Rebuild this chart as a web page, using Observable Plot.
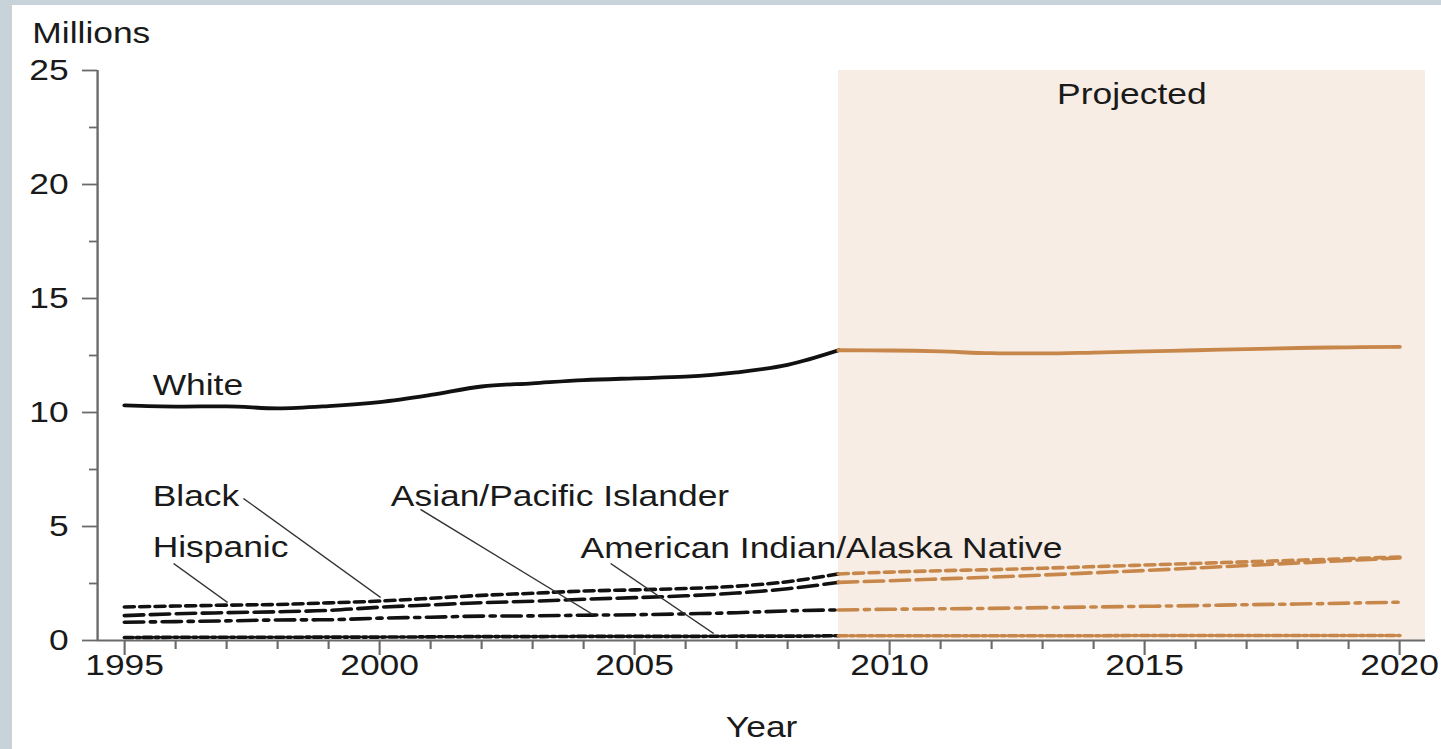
<!DOCTYPE html>
<html><head><meta charset="utf-8">
<script src="https://cdn.jsdelivr.net/npm/d3@7"></script>
<script src="https://cdn.jsdelivr.net/npm/@observablehq/plot@0.6"></script>
<style>
html,body{margin:0;padding:0;background:#c7d2d9;width:1441px;height:749px;overflow:hidden}
#panel{position:absolute;left:12px;top:5px;width:1429px;height:744px;background:#fff}
#panel svg{display:block}
</style></head><body><div id="panel"></div>
<script>
// ---- data ----
const years = [1995,1996,1997,1998,1999,2000,2001,2002,2003,2004,2005,2006,2007,2008,2009,2010,2011,2012,2013,2014,2015,2016,2017,2018,2019,2020];
const lastActualYear = 2009;
const seriesNames = ["White","Black","Hispanic","Asian/Pacific Islander","American Indian/Alaska Native"];
const white    = [10.31,10.26,10.27,10.18,10.28,10.46,10.77,11.14,11.28,11.42,11.50,11.57,11.76,12.09,12.73, 12.72,12.68,12.60,12.59,12.63,12.68,12.73,12.78,12.83,12.86,12.88];
const black    = [1.47,1.51,1.55,1.58,1.65,1.73,1.85,1.98,2.07,2.17,2.22,2.28,2.38,2.58,2.92, 3.00,3.06,3.11,3.17,3.24,3.31,3.38,3.45,3.52,3.59,3.66];
const hispanic = [1.09,1.17,1.22,1.26,1.32,1.46,1.56,1.66,1.72,1.81,1.88,1.96,2.08,2.27,2.55, 2.62,2.70,2.78,2.87,2.97,3.07,3.18,3.29,3.40,3.51,3.62];
const asian    = [0.80,0.83,0.86,0.90,0.91,0.98,1.02,1.07,1.08,1.11,1.13,1.17,1.22,1.30,1.34, 1.37,1.39,1.41,1.44,1.47,1.50,1.53,1.57,1.60,1.64,1.68];
const aian     = [0.13,0.14,0.14,0.14,0.15,0.15,0.16,0.17,0.17,0.18,0.18,0.18,0.19,0.19,0.21, 0.21,0.21,0.21,0.21,0.21,0.22,0.22,0.22,0.22,0.22,0.22];
const seriesValues = [white, black, hispanic, asian, aian];

const xTickMajor = [1995, 2000, 2005, 2010, 2015, 2020];
const xTickMinor = years.filter(y => !xTickMajor.includes(y));
const yTickMajor = [0, 5, 10, 15, 20, 25];
const yTickMinor = [2.5, 7.5, 12.5, 17.5, 22.5];

// label annotations (data coordinates)
const labelText = ["White","Black","Hispanic","Asian/Pacific Islander","American Indian/Alaska Native"];
const labelYear = [1995.55, 1995.55, 1995.55, 2000.22, 2003.94];
const labelValue = [10.75, 5.88, 3.68, 5.88, 3.61];
// leader lines
const leaderFromYear = [1997.33, 1995.96, 2000.80, 2004.53];
const leaderFromValue = [6.23, 3.38, 5.75, 3.38];
const leaderToYear = [2000.02, 1997.02, 2004.18, 2006.55];
const leaderToValue = [1.89, 1.67, 1.14, 0.31];
const projectedLabel = "Projected";
const projectedLabelYear = 2014.75;
const projectedLabelValue = 23.55;

// ---- styles ----
const dash = {
  "White": null,
  "Black": "8,5",
  "Hispanic": "16,6",
  "Asian/Pacific Islander": "16,6,4,6",
  "American Indian/Alaska Native": "7,3,3,3"
};
const actualColor = "#111";
const projColor = "#c8874a";
const shadeColor = "#f7ede4";
const axisColor = "#6a6a6a";
const FONT = "Liberation Sans, Arial, Helvetica, sans-serif";
const FS = 30;
const SX = 1.18;
const W = 1211, H = 744;
const xDomain = [1994.47, 2020.51];

// ---- table ----
const rows = [];
seriesNames.forEach((name, si) => years.forEach((yr, i) => rows.push({series: name, year: yr, value: seriesValues[si][i]})));
const actual = rows.filter(d => d.year <= lastActualYear);
const projected = rows.filter(d => d.year >= lastActualYear);

const lineMarks = [];
seriesNames.forEach(name => {
  const sw = name === "White" ? 3.8 : 3.6;
  lineMarks.push(Plot.line(actual.filter(d => d.series === name), {x: "year", y: "value", stroke: actualColor, strokeWidth: sw, strokeDasharray: dash[name] || undefined, curve: "monotone-x"}));
  lineMarks.push(Plot.line(projected.filter(d => d.series === name), {x: "year", y: "value", stroke: projColor, strokeWidth: sw, strokeDasharray: dash[name] || undefined, curve: "monotone-x"}));
});

const labels = labelText.map((t, i) => ({t, x: labelYear[i], y: labelValue[i]}));
const leaders = leaderFromYear.map((x, i) => ({x1: x, y1: leaderFromValue[i], x2: leaderToYear[i], y2: leaderToValue[i]}));

const svg = Plot.plot({
  width: W, height: H,
  marginLeft: 72.03, marginRight: 13.54, marginTop: 65, marginBottom: 109,
  style: {fontFamily: FONT, fontSize: FS + "px", color: "#1a1a1a", background: "transparent", overflow: "visible"},
  x: {domain: xDomain},
  y: {domain: [0, 25]},
  marks: [
    Plot.rect([{x1: lastActualYear, x2: xDomain[1], y1: 0, y2: 25}], {x1: "x1", x2: "x2", y1: "y1", y2: "y2", fill: shadeColor}),
    Plot.axisX({ticks: xTickMinor, tickSize: 9, tickFormat: () => "", stroke: axisColor, strokeWidth: 1.8, label: null}),
    Plot.axisX({ticks: xTickMajor, tickSize: 15, tickPadding: -2, tickFormat: d => String(d), stroke: axisColor, strokeWidth: 1.8, fontSize: FS, fill: "#1a1a1a", label: null}),
    Plot.axisY({ticks: yTickMinor, tickSize: 6.8, tickFormat: () => "", stroke: axisColor, strokeWidth: 1.8, label: null}),
    Plot.axisY({ticks: yTickMajor, tickSize: 12.7, tickPadding: 11.8, stroke: axisColor, strokeWidth: 1.8, fontSize: FS, fill: "#1a1a1a", label: null}),
    Plot.ruleY([0], {stroke: axisColor, strokeWidth: 2}),
    Plot.ruleX([xDomain[0]], {y1: 0, y2: 25, stroke: axisColor, strokeWidth: 2}),
    ...lineMarks,
    Plot.link(leaders, {x1: "x1", y1: "y1", x2: "x2", y2: "y2", stroke: "#333", strokeWidth: 1.3}),
    Plot.text(labels, {x: "x", y: "y", text: "t", textAnchor: "start", lineAnchor: "bottom", fontSize: FS, fill: "#1a1a1a"}),
    Plot.text([projectedLabel], {x: () => projectedLabelYear, y: () => projectedLabelValue, text: d => d, textAnchor: "middle", lineAnchor: "bottom", fontSize: FS, fill: "#1a1a1a"}),
    Plot.text(["Millions"], {frameAnchor: "top-left", dx: -55.3, dy: -27.3, lineAnchor: "bottom", textAnchor: "start", fontSize: FS, fill: "#1a1a1a"}),
    Plot.text(["Year"], {frameAnchor: "bottom", dy: 96, lineAnchor: "bottom", fontSize: FS, fill: "#1a1a1a"})
  ]
});

svg.setAttribute("width", Math.round(W * SX));
svg.setAttribute("height", H);
svg.setAttribute("preserveAspectRatio", "none");
svg.style.width = Math.round(W * SX) + "px";
svg.style.height = H + "px";
svg.style.maxWidth = "none";
document.getElementById("panel").appendChild(svg);
</script></body></html>
